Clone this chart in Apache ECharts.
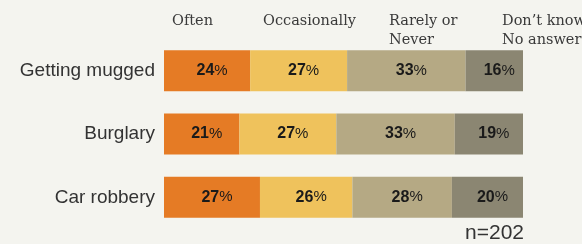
<!DOCTYPE html>
<html>
<head>
<meta charset="utf-8">
<script src="https://cdn.jsdelivr.net/npm/echarts@6/dist/echarts.min.js"></script>
<style>
  html, body { margin: 0; padding: 0; background: #f4f4ef; }
  #chart { width: 582px; height: 244px; }
</style>
</head>
<body>
<div id="chart"></div>
<script>
// categories (top to bottom) and answers
const categories = ['Getting mugged', 'Burglary', 'Car robbery'];
const answers = ['Often', 'Occasionally', 'Rarely or\nNever', 'Don\u2019t know\nNo answer'];
const often = [24, 21, 27];
const occasionally = [27, 27, 26];
const rarely = [33, 33, 28];
const dontKnow = [16, 19, 20];
const colors = ['#e57b25', '#efc25c', '#b5a984', '#8b8672'];

(function () {
  const chart = echarts.init(document.getElementById('chart'));
  const rows = [often, occasionally, rarely, dontKnow];

  // scale each row to 100 so the bars end together (rounded values can add up to 101)
  const totals = categories.map((c, i) => rows.reduce((s, r) => s + r[i], 0));

  const headingX = [172, 263, 389, 502];

  const series = rows.map((r, k) => ({
    name: answers[k],
    type: 'bar',
    stack: 'all',
    barWidth: 41,
    itemStyle: { color: colors[k] },
    data: r.map((v, i) => ({ value: v * 100 / totals[i], raw: v })),
    label: {
      show: true,
      position: 'inside',
      offset: [5, 0],
      formatter: (p) => '{b|' + p.data.raw + '}{p|%}',
      rich: {
        b: { fontFamily: '"Liberation Sans", Arial, sans-serif', fontWeight: 'bold', fontSize: 16, color: '#1a1a1a' },
        p: { fontFamily: '"Liberation Sans", Arial, sans-serif', fontWeight: 'normal', fontSize: 15, color: '#1a1a1a' }
      }
    }
  }));

  chart.setOption({
    backgroundColor: '#f4f4ef',
    animation: false,
    grid: { left: 164, right: 59, top: 39, bottom: 15 },
    xAxis: { type: 'value', min: 0, max: 100, show: false },
    yAxis: {
      type: 'category',
      inverse: true,
      data: categories,
      axisLine: { show: false },
      axisTick: { show: false },
      axisLabel: {
        margin: 9,
        fontSize: 19,
        color: '#333',
        fontFamily: '"Liberation Sans", Arial, sans-serif'
      }
    },
    series: series,
    graphic: answers.map((a, k) => ({
      type: 'text',
      left: headingX[k],
      top: 12,
      style: {
        text: a,
        fontFamily: '"DejaVu Serif", Georgia, serif',
        fontSize: 14.5,
        lineHeight: 19,
        fill: '#3a3a3a'
      }
    })).concat([{
      type: 'text',
      right: 58,
      top: 223,
      style: {
        text: 'n=202',
        fontFamily: '"Liberation Sans", Arial, sans-serif',
        fontSize: 21,
        fill: '#333'
      }
    }])
  });
})();
</script>
</body>
</html>
